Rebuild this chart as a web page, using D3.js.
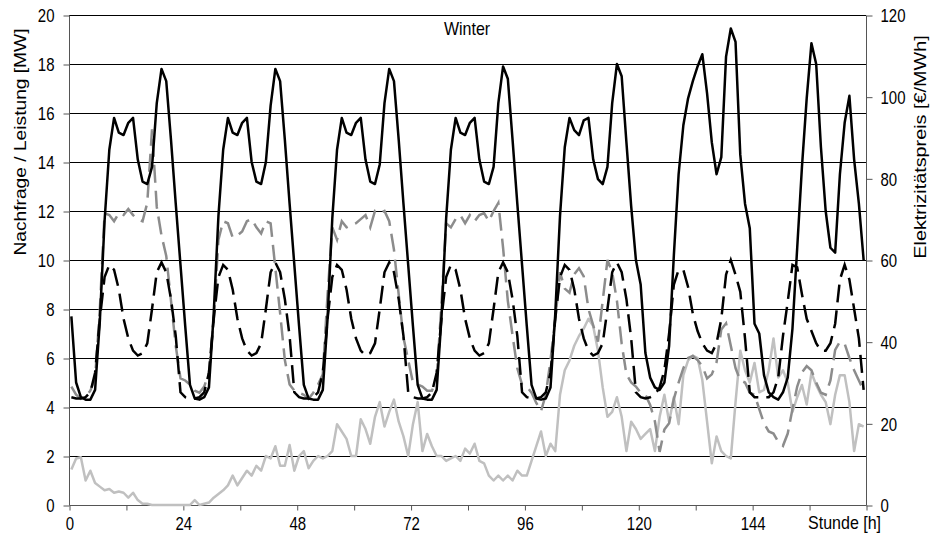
<!DOCTYPE html>
<html>
<head>
<meta charset="utf-8">
<script src="https://cdn.jsdelivr.net/npm/d3@7"></script>
<style>
  body { margin: 0; background: #fff; }
  text { font-family: "Liberation Sans", Arial, sans-serif; fill: #000; }
</style>
</head>
<body>
<svg id="chart" width="932" height="545"></svg>
<script>
// Hourly values for one winter week (168 hours)
const nachfrage = [
  7.7, 5.0, 4.4, 4.3, 4.3, 4.7, 7.5, 11.6, 14.5, 15.8, 15.2, 15.1, 15.6, 15.8, 14.1, 13.2, 13.1, 13.8, 16.4, 17.8, 17.3, 14.9, 12.3, 9.8,
  7.3, 4.9, 4.35, 4.3, 4.4, 4.8, 7.8, 11.8, 14.5, 15.8, 15.2, 15.1, 15.6, 15.8, 14.0, 13.2, 13.1, 14.0, 16.3, 17.8, 17.3, 14.9, 12.3, 9.8,
  7.3, 4.9, 4.35, 4.3, 4.3, 4.7, 7.6, 11.7, 14.5, 15.8, 15.2, 15.1, 15.6, 15.8, 14.1, 13.2, 13.1, 13.9, 16.4, 17.8, 17.3, 14.9, 12.3, 9.8,
  7.3, 4.9, 4.35, 4.3, 4.3, 4.7, 7.6, 11.7, 14.5, 15.8, 15.2, 15.1, 15.6, 15.8, 14.1, 13.2, 13.1, 13.8, 16.4, 17.9, 17.4, 14.9, 12.3, 9.8,
  7.3, 4.9, 4.35, 4.3, 4.35, 4.8, 7.8, 11.8, 14.6, 15.8, 15.3, 15.1, 15.7, 15.8, 14.1, 13.3, 13.1, 13.8, 16.4, 18.0, 17.5, 14.8, 12.2, 10.0,
  9.0, 6.2, 5.2, 4.8, 4.7, 5.0, 6.5, 10.2, 13.5, 15.5, 16.6, 17.3, 17.9, 18.4, 16.8, 14.8, 13.5, 14.2, 18.3, 19.45, 18.9, 14.3, 12.3, 11.3,
  7.4, 7.0, 5.3, 4.6, 4.4, 4.3, 4.6, 5.2, 7.2, 10.5, 13.8, 16.6, 18.85, 18.0, 14.6, 12.0, 10.5, 10.3, 13.5, 15.6, 16.7, 14.1, 12.3, 10.0
];

const leistung = [
  4.4, 4.35, 4.35, 4.4, 4.6, 5.4, 7.6, 9.3, 9.8, 9.6, 8.8, 7.6, 6.8, 6.3, 6.1, 6.2, 6.6, 8.0, 9.5, 9.9, 9.5, 8.4, 6.9, 4.6,
  4.4, 4.35, 4.35, 4.4, 4.6, 5.4, 7.6, 9.3, 9.8, 9.6, 8.8, 7.6, 6.8, 6.3, 6.1, 6.2, 6.6, 8.0, 9.5, 9.9, 9.5, 8.4, 6.9, 4.6,
  4.4, 4.35, 4.35, 4.4, 4.6, 5.4, 7.6, 9.3, 9.8, 9.6, 8.8, 7.6, 6.8, 6.3, 6.1, 6.2, 6.6, 8.0, 9.5, 9.9, 9.5, 8.4, 6.9, 4.6,
  4.4, 4.35, 4.35, 4.4, 4.6, 5.4, 7.6, 9.3, 9.8, 9.6, 8.8, 7.6, 6.8, 6.3, 6.1, 6.2, 6.6, 8.0, 9.5, 9.9, 9.5, 8.4, 6.9, 4.6,
  4.4, 4.35, 4.35, 4.4, 4.6, 5.4, 7.6, 9.3, 9.8, 9.6, 8.8, 7.6, 6.8, 6.3, 6.1, 6.2, 6.6, 8.0, 9.5, 9.9, 9.5, 8.4, 6.8, 4.6,
  4.4, 4.35, 4.4, 4.5, 4.8, 5.5, 7.0, 9.0, 9.6, 9.6, 8.9, 7.8, 7.1, 6.6, 6.3, 6.2, 6.6, 7.6, 9.4, 10.0, 9.4, 8.7, 6.8, 4.6,
  4.4, 4.4, 4.4, 4.4, 4.6, 5.2, 6.9, 8.3, 9.8, 9.7, 8.6, 7.6, 7.1, 6.6, 6.3, 6.3, 6.6, 7.4, 9.2, 9.8, 9.2, 8.0, 6.8, 4.7
];

const windleistung = [
  1.45, 1.9, 1.95, 1.0, 1.4, 0.9, 0.75, 0.6, 0.65, 0.5, 0.55, 0.5, 0.3, 0.5, 0.2, 0.05, 0.05, 0, 0, 0, 0, 0, 0, 0,
  0, 0, 0.2, 0, 0.05, 0.1, 0.3, 0.45, 0.6, 0.8, 1.2, 0.8, 1.1, 1.4, 1.2, 1.6, 1.4, 2.0, 1.9, 2.4, 1.6, 1.6, 2.45, 1.4,
  2.0, 2.2, 1.5, 1.8, 2.0, 1.9, 2.0, 2.2, 3.3, 3.0, 2.7, 2.0, 2.0, 3.5, 3.1, 2.5, 3.6, 4.2, 3.2, 3.8, 4.3, 3.4, 2.8, 2.0,
  3.3, 4.2, 2.2, 2.9, 2.4, 2.0, 2.0, 1.8, 1.9, 2.0, 1.8, 2.3, 2.1, 2.5, 1.8, 1.7, 1.2, 1.0, 1.2, 1.0, 1.2, 1.0, 1.4, 1.2,
  1.2, 1.8, 2.4, 3.0, 2.0, 2.5, 2.2, 4.5, 5.5, 5.9, 6.5, 6.9, 7.2, 7.6, 7.3, 6.3, 4.8, 3.6, 3.8, 4.4, 3.6, 2.2, 3.4, 3.1,
  2.7, 2.9, 3.1, 2.2, 3.6, 4.5, 3.4, 4.4, 3.3, 5.3, 5.9, 6.1, 6.0, 5.1, 3.4, 1.7, 2.8, 2.2, 2.0, 1.9, 4.2, 6.3, 5.5, 5.0,
  5.8, 4.6, 4.7, 5.5, 6.8, 5.2, 5.5, 5.0, 3.8, 4.4, 4.9, 4.1, 5.4, 4.9, 4.5, 4.2, 3.3, 4.5, 5.3, 5.3, 4.2, 2.2, 3.3, 3.2
];

// Elektrizitätspreis in €/MWh (right axis)
const preis = [
  29, 27, 26, 26.5, 28, 31, 48, 71.5, 71, 69.5, 71.5, 71, 72.5, 71, 70, 69.5, 74, 92, 73, 66, 61, 50, 39, 31,
  30.5, 29.5, 28, 27.5, 29, 32.5, 45, 65, 69.5, 69, 65.5, 66, 67, 69.5, 70, 68, 66.5, 69.5, 69, 58, 47, 35.5, 29.5, 28,
  27.5, 27, 26, 27.5, 29.5, 32, 51.5, 68, 65, 69.5, 68, 68.5, 69, 70, 71, 68, 72, 71.5, 72, 69.5, 62.5, 51.5, 41, 35.5,
  30, 29.5, 29, 28, 28, 31, 49, 69, 68, 70, 71, 69, 71, 69.5, 71, 71.5, 69.5, 72, 74, 63, 50, 41.5, 33.5, 29.5,
  29, 27.5, 25, 23, 27, 35.5, 45.5, 57, 53, 52, 56.5, 58, 56, 48, 44, 40, 50, 60, 57, 50, 39.5, 32, 30, 29,
  27.5, 27, 24.5, 20.5, 13, 18.5, 20, 26, 30, 33.5, 36, 36.5, 35.5, 34, 31, 32, 35, 43, 44.5, 39, 33.5, 30.5, 30, 27.5,
  27, 23.5, 20, 18, 17.5, 15.5, 14.5, 17.5, 23.5, 29, 32.5, 34, 33, 30, 27.5, 27, 30.5, 38, 40, 39.5, 36, 33, 30.5, 28
];

const xTicksLabelled = [0, 24, 48, 72, 96, 120, 144];
const xTicksMinor = d3.range(0, 169, 12);
const leftTicks = d3.range(0, 21, 2);
const rightTicks = d3.range(0, 121, 20);

const plotLeft = 69, plotRight = 866, plotTop = 15, plotBottom = 505;
const textStretch = 1.2;   // glyphs are drawn taller than wide

const svg = d3.select("#chart");
const x = d3.scaleLinear().domain([0, 168]).range([plotLeft, plotRight]);
const yL = d3.scaleLinear().domain([0, 20]).range([plotBottom, plotTop]);
const yR = d3.scaleLinear().domain([0, 120]).range([plotBottom, plotTop]);

// horizontal grid lines
svg.append("g")
  .selectAll("line")
  .data(leftTicks.filter(d => d > 0))
  .join("line")
  .attr("x1", plotLeft).attr("x2", plotRight)
  .attr("y1", d => Math.round(yL(d)) + 0.5)
  .attr("y2", d => Math.round(yL(d)) + 0.5)
  .attr("stroke", "#000")
  .attr("stroke-width", 1);

// left axis
const axL = svg.append("g")
  .attr("transform", `translate(${plotLeft + 0.5},0.5)`)
  .call(d3.axisLeft(yL).tickValues(leftTicks).tickSize(6).tickPadding(9).tickFormat(d3.format("d")));
// right axis
const axR = svg.append("g")
  .attr("transform", `translate(${plotRight + 0.5},0.5)`)
  .call(d3.axisRight(yR).tickValues(rightTicks).tickSize(6).tickPadding(8).tickFormat(d3.format("d")));
// bottom axis
const axB = svg.append("g")
  .attr("transform", `translate(0.5,${plotBottom + 0.5})`)
  .call(d3.axisBottom(x).tickValues(xTicksMinor).tickSize(5)
    .tickFormat(d => xTicksLabelled.includes(d) ? d : ""));

[axL, axR, axB].forEach(ax => {
  ax.select(".domain").attr("stroke", "#555").attr("stroke-width", 1);
  ax.selectAll(".tick line").attr("stroke", "#555");
  ax.selectAll(".tick text").attr("font-size", 15).attr("font-family", "Liberation Sans, Arial, sans-serif");
});
axL.selectAll(".tick text").attr("dy", "0.36em").attr("transform", `scale(1,${textStretch})`);
axR.selectAll(".tick text").attr("dy", "0.36em").attr("transform", `scale(1,${textStretch})`);
axB.selectAll(".tick text").attr("y", 0).attr("dy", 0)
  .attr("transform", `translate(0,24) scale(1,${textStretch})`);
axL.select(".domain").attr("d", `M0,${plotTop}V${plotBottom}`);
axR.select(".domain").attr("d", `M0,${plotTop}V${plotBottom}`);
axB.select(".domain").attr("d", `M${plotLeft},0H${plotRight}`);

const px = (d, i) => x(i + 0.5);

const lineL = d3.line().x(px).y(d => yL(d));
const lineR = d3.line().x(px).y(d => yR(d));

svg.append("path").datum(windleistung)
  .attr("d", lineL).attr("fill", "none")
  .attr("stroke", "#c0c0c0").attr("stroke-width", 2.5).attr("stroke-linejoin", "round");

svg.append("path").datum(preis)
  .attr("d", lineR).attr("fill", "none")
  .attr("stroke", "#8c8c8c").attr("stroke-width", 2.5)
  .attr("stroke-dasharray", "18,8");

svg.append("path").datum(leistung)
  .attr("d", lineL).attr("fill", "none")
  .attr("stroke", "#000").attr("stroke-width", 2.5)
  .attr("stroke-dasharray", "18,8");

svg.append("path").datum(nachfrage)
  .attr("d", lineL).attr("fill", "none")
  .attr("stroke", "#000").attr("stroke-width", 2.5).attr("stroke-linejoin", "round");

// titles
svg.append("text").attr("transform", `translate(467,35) scale(1,${textStretch})`)
  .attr("text-anchor", "middle").attr("font-size", 16).text("Winter");

svg.append("text").attr("transform", `translate(26,142) scale(1,${textStretch}) rotate(-90)`)
  .attr("text-anchor", "middle").attr("font-size", 16)
  .text("Nachfrage / Leistung [MW]");

svg.append("text").attr("transform", `translate(926,147) scale(1,${textStretch}) rotate(-90)`)
  .attr("text-anchor", "middle").attr("font-size", 16.5)
  .text("Elektrizitätspreis [€/MWh]");

svg.append("text").attr("transform", `translate(881,529) scale(1,${textStretch})`)
  .attr("text-anchor", "end").attr("font-size", 16).text("Stunde [h]");
</script>
</body>
</html>
